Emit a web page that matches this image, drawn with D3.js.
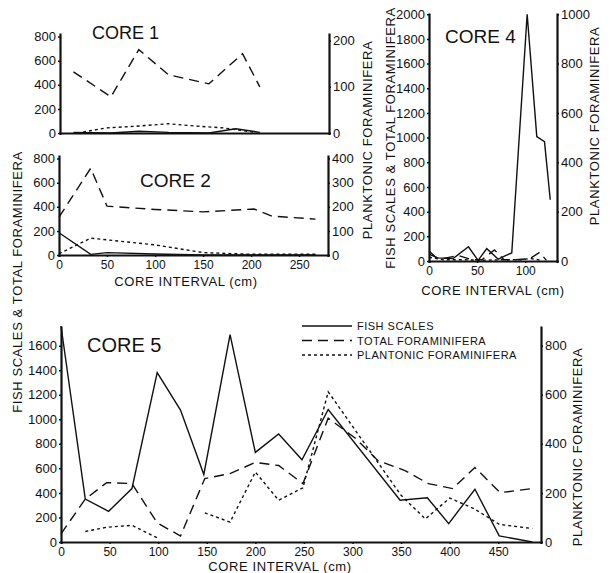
<!DOCTYPE html>
<html>
<head>
<meta charset="utf-8">
<script src="https://cdn.jsdelivr.net/npm/d3@7/dist/d3.min.js"></script>
<style>
  body { margin: 0; background: #fff; }
  text { font-family: "Liberation Sans", Arial, sans-serif; fill: #111; }
</style>
</head>
<body>
<div class="chart"></div>
<script>
// values: [core interval (cm), count]
var core1Fish = [[14,5],[53,0],[82,15],[113,5],[155,0],[183,35],[208,5]];
var core1Total = [[14,508],[53,300],[82,692],[113,483],[155,408],[190,658],[208,383]];
var core1Plank = [[24,2],[48,11],[82,15],[113,20],[141,15],[170,11],[201,2]];

var core2Fish = [[0,185],[33,5],[50,20],[100,8],[150,0],[200,0],[267,0]];
var core2Total = [[0,314],[33,720],[50,405],[100,378],[150,358],[203,382],[222,322],[267,298]];
var core2Plank = [[0,5],[33,70],[100,42],[150,10],[200,3],[267,3]];

var core4Fish = [[0,80],[8,25],[25,20],[41,115],[51,5],[60,100],[72,15],[80,45],[86,65],[102,2000],[112,1008],[120,967],[126,496]];
var core4Total = [[0,55],[12,15],[30,45],[45,10],[55,10],[68,90],[78,10],[90,10],[105,20],[115,70],[122,5]];
var core4Plank = [[0,15],[15,5],[35,5],[55,3],[75,5],[95,5],[105,10],[118,3]];

var core5Fish = [[0,1760],[25,350],[49,250],[73,435],[99,1380],[123,1075],[147,550],[174,1690],[200,730],[224,880],[248,670],[275,1080],[349,340],[377,360],[399,150],[426,430],[451,50],[485,0]];
var core5Total = [[0,66],[25,350],[47,484],[73,476],[99,156],[123,49],[148,517],[174,558],[200,648],[224,623],[249,476],[275,1009],[303,845],[326,664],[354,582],[378,476],[403,435],[426,607],[452,402],[485,435]];
var core5Plank = [[25,43],[47,60],[73,68],[99,17],[123,null],[148,119],[174,81],[200,285],[224,170],[249,221],[275,612],[350,190],[375,94],[400,179],[425,136],[451,72],[485,55]];

var ticks800 = [0, 200, 400, 600, 800];
var ticks2000 = [0, 200, 400, 600, 800, 1000, 1200, 1400, 1600, 1800, 2000];
var ticks1600 = [0, 200, 400, 600, 800, 1000, 1200, 1400, 1600];
var ticksPl200 = [0, 100, 200];
var ticksPl400 = [0, 100, 200, 300, 400];
var ticksPl1000 = [0, 200, 400, 600, 800, 1000];
var ticksPl800 = [0, 200, 400, 600, 800];
var xTicks250 = [0, 50, 100, 150, 200, 250];
var xTicks100 = [0, 50, 100];
var xTicks450 = [0, 50, 100, 150, 200, 250, 300, 350, 400, 450];

var legendItems = ['FISH SCALES', 'TOTAL FORAMINIFERA', 'PLANTONIC FORAMINIFERA'];
var dashes = [null, '10,6', '3,3'];

var svg = d3.select('.chart')
  .append('svg')
    .attr('width', 610)
    .attr('height', 573);

function styleAxis(g, size) {
  g.select('.domain').attr('stroke', '#111').attr('stroke-width', 2.2);
  g.selectAll('.tick line').attr('stroke', '#111').attr('stroke-width', 1.5);
  g.selectAll('.tick text')
    .attr('font-size', size || 13)
    .attr('font-family', '"Liberation Sans", Arial, sans-serif')
    .attr('fill', '#111');
}

function drawPanel(p) {
  var x = d3.scaleLinear().domain(p.xDomain).range(p.xRange);
  var yL = d3.scaleLinear().domain(p.yLDomain).range(p.yRange);
  var yR = d3.scaleLinear().domain(p.yRDomain).range(p.yRange);
  var fmt = d3.format('d');

  // bottom axis
  var xAxis = d3.axisBottom(x).tickSizeOuter(0).tickSize(2).tickPadding(3).tickFormat(fmt);
  xAxis.tickValues(p.xTicks || []);
  svg.append('g')
    .attr('transform', `translate(0, ${p.yRange[0]})`)
    .call(xAxis)
    .call(styleAxis, 12);

  svg.append('g')
    .attr('transform', `translate(${p.xRange[0]}, 0)`)
    .call(d3.axisLeft(yL).tickValues(p.leftTicks).tickFormat(fmt).tickSize(2).tickPadding(2).tickSizeOuter(0))
    .call(styleAxis, 13);

  svg.append('g')
    .attr('transform', `translate(${p.xRange[1]}, 0)`)
    .call(d3.axisRight(yR).tickValues(p.rightTicks).tickFormat(fmt).tickSize(2).tickPadding(2).tickSizeOuter(0))
    .call(styleAxis, 13);

  var lineL = d3.line().defined(d => d[1] != null).x(d => x(d[0])).y(d => yL(d[1]));
  var lineR = d3.line().defined(d => d[1] != null).x(d => x(d[0])).y(d => yR(d[1]));

  [[p.fish, lineL, 0], [p.total, lineL, 1], [p.plank, lineR, 2]].forEach(function (s) {
    svg.append('path')
      .datum(s[0])
      .attr('d', s[1])
      .attr('fill', 'none')
      .attr('stroke', '#111')
      .attr('stroke-width', 1.4)
      .attr('stroke-dasharray', dashes[s[2]]);
  });

  svg.append('text')
    .attr('x', p.title[0])
    .attr('y', p.title[1])
    .attr('font-size', p.title[3])
    .text(p.title[2]);

  if (p.xLabel) {
    svg.append('text')
      .attr('x', p.xLabel[0])
      .attr('y', p.xLabel[1])
      .attr('text-anchor', 'middle')
      .attr('font-size', 13)
      .attr('letter-spacing', 0.6)
      .text('CORE INTERVAL (cm)');
  }
}

// core 1
drawPanel({
  xDomain: [0, 280], xRange: [60, 329],
  yLDomain: [0, 830], yRDomain: [0, 216], yRange: [133, 33],
  leftTicks: ticks800, rightTicks: ticksPl200,
  fish: core1Fish, total: core1Total, plank: core1Plank,
  title: [92, 39, 'CORE 1', 18]
});

// core 2
drawPanel({
  xDomain: [0, 280], xRange: [59, 328],
  yLDomain: [0, 830], yRDomain: [0, 415], yRange: [255, 155],
  leftTicks: ticks800, rightTicks: ticksPl400, xTicks: xTicks250,
  fish: core2Fish, total: core2Total, plank: core2Plank,
  title: [140, 187, 'CORE 2', 19],
  xLabel: [186, 286]
});

// core 4
drawPanel({
  xDomain: [0, 133], xRange: [429, 557],
  yLDomain: [0, 2010], yRDomain: [0, 1005], yRange: [261, 13],
  leftTicks: ticks2000, rightTicks: ticksPl1000, xTicks: xTicks100,
  fish: core4Fish, total: core4Total, plank: core4Plank,
  title: [445, 43, 'CORE 4', 19],
  xLabel: [493, 295]
});

// core 5
drawPanel({
  xDomain: [0, 494], xRange: [61, 541],
  yLDomain: [0, 1760], yRDomain: [0, 880], yRange: [542, 326],
  leftTicks: ticks1600, rightTicks: ticksPl800, xTicks: xTicks450,
  fish: core5Fish, total: core5Total, plank: core5Plank,
  title: [87, 352, 'CORE 5', 20],
  xLabel: [280, 571]
});

// rotated axis titles
var yTitles = [
  [17, 282, 'FISH SCALES & TOTAL FORAMINIFERA'],
  [367, 140, 'PLANKTONIC FORAMINIFERA'],
  [390, 138, 'FISH SCALES & TOTAL FORAMINIFERA'],
  [594, 126, 'PLANKTONIC FORAMINIFERA'],
  [577, 447, 'PLANKTONIC FORAMINIFERA']
];
svg.selectAll('.ytitle')
  .data(yTitles)
  .enter().append('text')
    .attr('class', 'ytitle')
    .attr('transform', d => `translate(${d[0]}, ${d[1]}) rotate(-90)`)
    .attr('text-anchor', 'middle')
    .attr('dominant-baseline', 'central')
    .attr('font-size', 13)
    .attr('letter-spacing', 0.6)
    .text(d => d[2]);

// legend of core 5
var legend = svg.append('g').attr('transform', 'translate(302, 326)');
legendItems.forEach(function (name, i) {
  legend.append('line')
    .attr('x1', 0).attr('x2', 50)
    .attr('y1', i * 14.5).attr('y2', i * 14.5)
    .attr('stroke', '#111')
    .attr('stroke-width', 1.3)
    .attr('stroke-dasharray', dashes[i]);
  legend.append('text')
    .attr('x', 55)
    .attr('y', i * 14.5)
    .attr('dominant-baseline', 'central')
    .attr('font-size', 11)
    .attr('letter-spacing', 0.5)
    .text(name);
});
</script>
</body>
</html>
